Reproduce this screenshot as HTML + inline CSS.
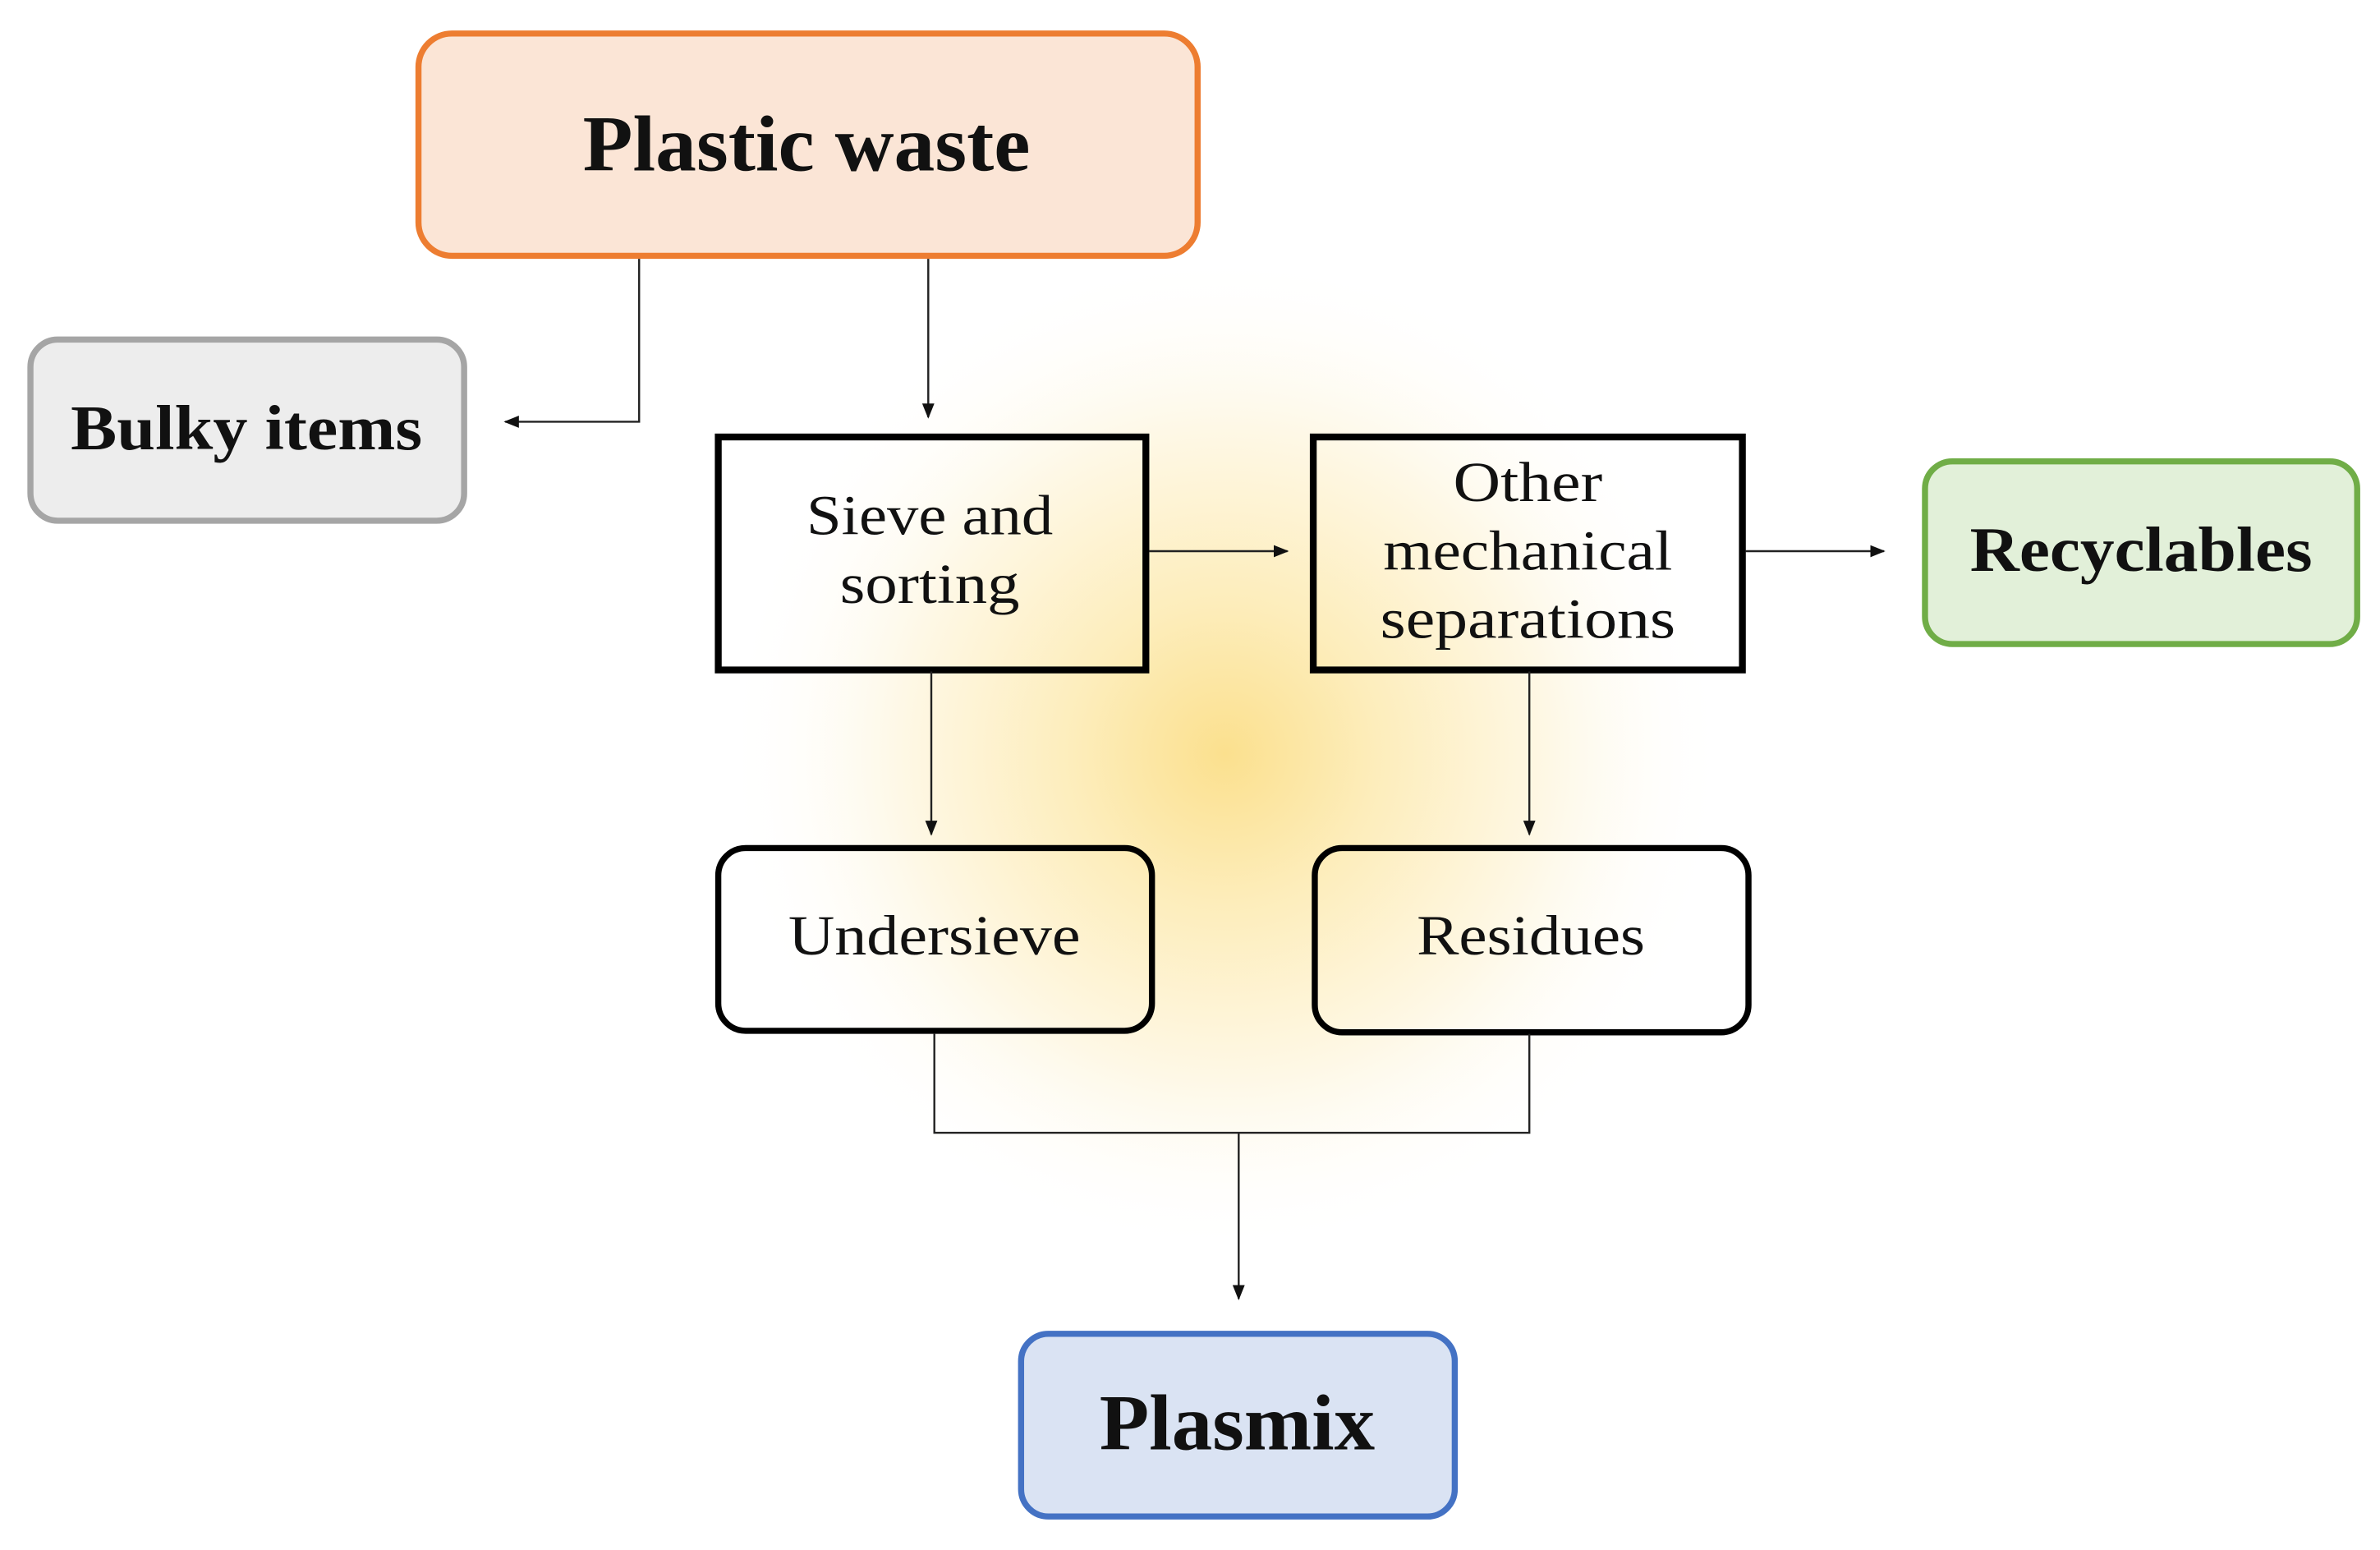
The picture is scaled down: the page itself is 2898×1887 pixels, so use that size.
<!DOCTYPE html>
<html><head><meta charset="utf-8"><style>html,body{margin:0;padding:0;background:#fff;}svg{display:block}</style></head>
<body>
<svg width="2898" height="1887" viewBox="0 0 1564 1018" preserveAspectRatio="none" xmlns="http://www.w3.org/2000/svg">
<defs>
<radialGradient id="g" cx="805" cy="495" r="330" gradientUnits="userSpaceOnUse">
<stop offset="0" stop-color="#fbe08e"/>
<stop offset="0.3" stop-color="#fdedbb"/>
<stop offset="0.65" stop-color="#fef8e6"/>
<stop offset="1" stop-color="#ffffff" stop-opacity="0"/>
</radialGradient>
<marker id="a" markerWidth="10" markerHeight="10" refX="9" refY="5" orient="auto" markerUnits="userSpaceOnUse"><path d="M0,1 L10,5 L0,9 z" fill="#111"/></marker>
</defs>
<rect width="1564" height="1018" fill="#fff"/>
<circle cx="805" cy="495" r="330" fill="url(#g)"/>
<g font-family="Liberation Serif, serif" text-anchor="middle" fill="#111">
<rect x="275" y="22" width="512" height="146" rx="22" fill="#fbe5d6" stroke="#ed7d31" stroke-width="4"/>
<text x="530" y="112" font-size="52" font-weight="bold" textLength="294" lengthAdjust="spacingAndGlyphs">Plastic waste</text>
<rect x="20" y="223" width="285" height="119" rx="18" fill="#ededed" stroke="#a5a5a5" stroke-width="4"/>
<text x="162" y="295" font-size="42" font-weight="bold" textLength="231" lengthAdjust="spacingAndGlyphs">Bulky items</text>
<rect x="472" y="287" width="281" height="153" fill="none" stroke="#000" stroke-width="4.5"/>
<text x="611" y="351" font-size="37" textLength="162" lengthAdjust="spacingAndGlyphs">Sieve and</text>
<text x="611" y="396" font-size="37" textLength="118" lengthAdjust="spacingAndGlyphs">sorting</text>
<rect x="863" y="287" width="282" height="153" fill="none" stroke="#000" stroke-width="4.5"/>
<text x="1004" y="329" font-size="37" textLength="98" lengthAdjust="spacingAndGlyphs">Other</text>
<text x="1004" y="374" font-size="37" textLength="190" lengthAdjust="spacingAndGlyphs">mechanical</text>
<text x="1004" y="419" font-size="37" textLength="194" lengthAdjust="spacingAndGlyphs">separations</text>
<rect x="1265" y="303" width="284" height="120" rx="18" fill="#e2f0d9" stroke="#70ad47" stroke-width="4"/>
<text x="1407" y="375" font-size="42" font-weight="bold" textLength="225" lengthAdjust="spacingAndGlyphs">Recyclables</text>
<rect x="472" y="557" width="285" height="120" rx="18" fill="none" stroke="#000" stroke-width="4"/>
<text x="614" y="627" font-size="37" textLength="192" lengthAdjust="spacingAndGlyphs">Undersieve</text>
<rect x="864" y="557" width="285" height="121" rx="18" fill="none" stroke="#000" stroke-width="4"/>
<text x="1006" y="627" font-size="37" textLength="150" lengthAdjust="spacingAndGlyphs">Residues</text>
<rect x="671" y="876" width="285" height="120" rx="18" fill="#dae3f3" stroke="#4472c4" stroke-width="4"/>
<text x="813" y="952" font-size="52" font-weight="bold" textLength="181" lengthAdjust="spacingAndGlyphs">Plasmix</text>
</g>
<g stroke="#222" stroke-width="1.3" fill="none">
<path d="M420,170 V277 H332" marker-end="url(#a)"/>
<path d="M610,170 V274" marker-end="url(#a)"/>
<path d="M755,362 H846" marker-end="url(#a)"/>
<path d="M1147,362 H1238" marker-end="url(#a)"/>
<path d="M612,441 V548" marker-end="url(#a)"/>
<path d="M1005,441 V548" marker-end="url(#a)"/>
<path d="M614,679 V744 H1005 V679"/>
<path d="M814,744 V853" marker-end="url(#a)"/>
</g>
</svg>
</body></html>
